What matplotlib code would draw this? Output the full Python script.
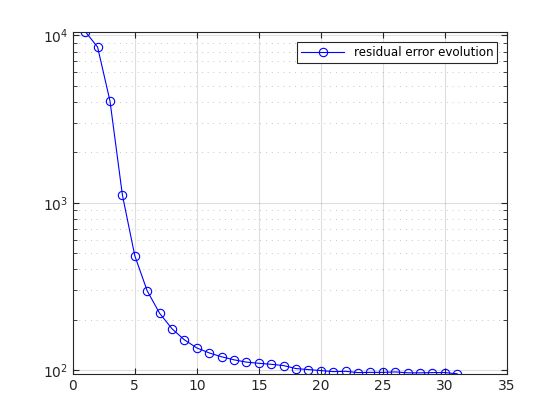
import matplotlib
matplotlib.use('Agg')
import matplotlib.pyplot as plt
from matplotlib.ticker import LogLocator, MultipleLocator, NullFormatter

iterations = list(range(1, 32))
residual_error = [10536, 8502, 4047, 1112, 483, 298, 219, 177, 152, 136,
                  127, 120.4, 115.5, 111.9, 110.1, 108.6, 106.7, 102.4, 101, 99.6,
                  98.2, 98.6, 96.9, 97.2, 97.2, 97.8, 96.6, 96.6, 96.9, 96.9,
                  95.3]

ax_col = (0.15, 0.15, 0.15)

fig = plt.figure(figsize=(5.6, 4.2), dpi=100)
ax = fig.add_axes([0.13, 0.11, 0.775, 0.815])

ax.semilogy(iterations, residual_error, '-o', color='b', linewidth=0.8,
            markersize=6, markerfacecolor='none', markeredgewidth=0.8,
            label='residual error evolution')

ax.set_xlim(0, 35)
ax.set_ylim(min(residual_error), max(residual_error))
ax.xaxis.set_major_locator(MultipleLocator(5))
ax.yaxis.set_major_locator(LogLocator(base=10))
ax.yaxis.set_minor_locator(LogLocator(base=10, subs=range(2, 10)))
ax.yaxis.set_minor_formatter(NullFormatter())

ax.grid(True, which='major', color=ax_col, alpha=0.15, linewidth=0.8)
ax.grid(True, which='minor', axis='y', color=ax_col, alpha=0.35,
        linestyle=(0, (1, 6)), linewidth=0.6)

ax.tick_params(which='both', direction='in', top=True, right=True,
               colors=ax_col, labelsize=10)
ax.tick_params(which='minor', length=3)
ax.tick_params(which='major', length=4.5)
for s in ax.spines.values():
    s.set_color(ax_col)
    s.set_linewidth(0.8)

leg = ax.legend(loc='upper right', fontsize=8.6, fancybox=False, framealpha=1,
                edgecolor=ax_col, borderpad=0.3, handlelength=3.6,
                borderaxespad=0, bbox_to_anchor=(0.977, 0.968))
leg.get_frame().set_linewidth(0.8)

plt.savefig('out.png', dpi=100)
plt.close()
